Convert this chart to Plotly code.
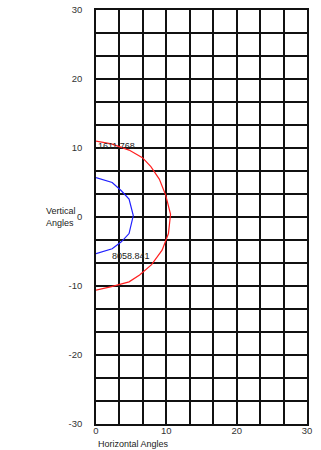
import plotly.graph_objects as go

red_x = [0, 2.2, 4.7, 6.6, 7.8, 9.0, 9.9, 10.6, 10.3, 9.4, 7.9, 6.2, 4.7, 2.2, 0]
red_y = [11.0, 10.6, 9.7, 8.6, 7.3, 5.5, 3.2, 0.4, -2.4, -4.8, -6.9, -8.4, -9.4, -10.1, -10.6]
blue_x = [0, 2.3, 3.6, 4.7, 5.3, 4.7, 3.6, 2.3, 0]
blue_y = [5.7, 5.0, 3.8, 2.6, 0.2, -2.4, -3.6, -4.6, -5.3]
red_label = "1611.768"
blue_label = "8058.841"
x_ticks = [0, 10, 20, 30]
y_ticks = [-30, -20, -10, 0, 10, 20, 30]
y_ticktext = ["-30", "-20", "-10", "0", "10", "20", "30"]

fig = go.Figure()
fig.add_trace(go.Scatter(x=red_x, y=red_y, mode="lines",
                         line=dict(color="#ff2020", width=1.2), showlegend=False))
fig.add_trace(go.Scatter(x=blue_x, y=blue_y, mode="lines",
                         line=dict(color="#2020ff", width=1.2), showlegend=False))

fig.add_annotation(x=0, y=10.3, text=red_label, showarrow=False, xanchor="left",
                   font=dict(size=9, color="#222"))
fig.add_annotation(x=2.0, y=-5.6, text=blue_label, showarrow=False, xanchor="left",
                   font=dict(size=9, color="#222"))

# axis titles placed in paper coords (plot area is 210 x 414 px)
fig.add_annotation(x=-35 / 210, y=(424 - 217) / 414, xref="paper", yref="paper",
                   text="Vertical<br>Angles", showarrow=False, align="left",
                   xanchor="center", yanchor="middle", font=dict(size=9, color="#222"))
fig.add_annotation(x=0, y=0, text="Horizontal Angles", showarrow=False,
                   xref="paper", yref="paper", xanchor="left", yanchor="middle", yshift=-20,
                   font=dict(size=9, color="#222"))

grid = dict(showgrid=True, gridcolor="#111", gridwidth=1.5, zeroline=False,
            showline=True, linecolor="#111", linewidth=1.5, mirror=True,
            minor=dict(dtick=10 / 3, showgrid=True, gridcolor="#111", gridwidth=1.5),
            tickfont=dict(size=9.5, color="#333"), fixedrange=True, automargin=False)

fig.update_xaxes(range=[0, 30], tickvals=x_ticks, ticks="", ticklabelstandoff=-3, **grid)
fig.update_yaxes(range=[-30, 30], tickvals=y_ticks, ticktext=y_ticktext, ticks="outside",
                 ticklen=10, tickcolor="rgba(0,0,0,0)", **grid)

fig.update_layout(width=321, height=450, margin=dict(l=96, r=14, t=10, b=26),
                  paper_bgcolor="white", plot_bgcolor="white",
                  font=dict(family="Liberation Sans, Arial, sans-serif"))

fig.write_html("out.html", config={"displayModeBar": False},
               post_script="document.body.style.margin='0';document.body.style.overflow='hidden';")
